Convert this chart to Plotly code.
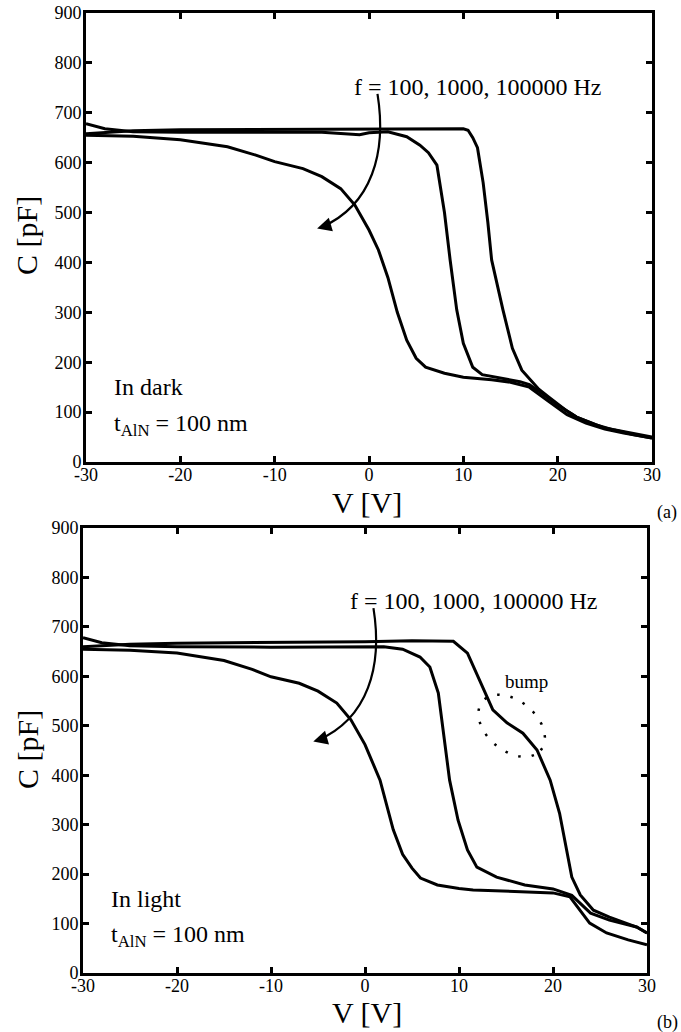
import numpy as np
import plotly.graph_objects as go

# ---------------- data ----------------
# (a) In dark
V_a_100 = [-30, -25, -20, -15, -12, -10, -7, -5, -3, -1.5, 0, 1, 2, 3, 4, 5, 6, 8, 10, 13, 15, 17, 19, 21, 23, 25, 27, 30]
C_a_100 = [655, 653, 646, 632, 615, 602, 588, 572, 548, 515, 465, 425, 370, 300, 244, 208, 190, 178, 170, 165, 160, 150, 122, 95, 78, 66, 58, 48]

V_a_1k = [-30, -28, -25, -20, -10, -5, -1, 0, 2, 4, 5.4, 6.3, 7.2, 8, 8.6, 9.3, 10, 11, 12, 14, 16, 17, 18, 20, 22, 25, 28, 30]
C_a_1k = [678, 668, 662, 661, 661, 661, 656, 660, 662, 652, 635, 620, 595, 500, 405, 305, 238, 190, 175, 168, 161, 155, 142, 114, 90, 68, 57, 50]

V_a_100k = [-30, -25, -20, -10, 0, 5, 10, 10.5, 11, 11.5, 12.1, 12.6, 13, 14.2, 15.2, 16.2, 17.4, 18, 19, 20, 21, 22, 24, 26, 28, 30]
C_a_100k = [658, 664, 666, 667, 668, 669, 668, 665, 650, 630, 560, 480, 405, 305, 228, 184, 158, 146, 131, 116, 102, 90, 75, 64, 55, 48]

# (b) In light
V_b_100 = [-30, -25, -20, -15, -12, -10, -7, -5, -3, -1.5, 0, 1.6, 3, 4, 5, 5.9, 7.7, 10, 11.5, 15, 20, 21.8, 23, 23.9, 25.7, 28, 30]
C_b_100 = [655, 653, 647, 632, 614, 599, 586, 570, 546, 512, 462, 390, 290, 240, 212, 192, 178, 171, 168, 165, 162, 154, 125, 101, 81, 67, 57]

V_b_1k = [-30, -28, -25, -20, -10, 0, 2, 4, 5.85, 6.9, 7.8, 9, 9.9, 10.9, 11.9, 14, 17, 20, 22, 24, 26, 28.9, 30]
C_b_1k = [678, 668, 662, 660, 659, 659, 660, 655, 639, 619, 566, 390, 309, 249, 214, 194, 178, 170, 157, 121, 107, 93, 81]

V_b_100k = [-30, -25, -20, -10, 0, 5, 9.4, 10.9, 12.2, 13.6, 15.1, 16.8, 18.3, 19.7, 20.7, 22, 22.9, 24.3, 26, 28.9, 30]
C_b_100k = [660, 665, 667, 668, 670, 672, 671, 647, 593, 532, 506, 485, 451, 390, 323, 194, 158, 127, 113, 93, 81]

x_ticks = [-30, -20, -10, 0, 10, 20, 30]
x_ticktext = ["-30", "-20", "-10", "0", "10", "20", "30"]
y_ticks = [0, 100, 200, 300, 400, 500, 600, 700, 800, 900]

FONT = "Liberation Serif"
W, H = 681, 1032

fig = go.Figure()
line = dict(color="black", width=3)
for V, C in [(V_a_100, C_a_100), (V_a_1k, C_a_1k), (V_a_100k, C_a_100k)]:
    fig.add_trace(go.Scatter(x=V, y=C, mode="lines", line=line, xaxis="x", yaxis="y", showlegend=False, hoverinfo="skip"))
for V, C in [(V_b_100, C_b_100), (V_b_1k, C_b_1k), (V_b_100k, C_b_100k)]:
    fig.add_trace(go.Scatter(x=V, y=C, mode="lines", line=line, xaxis="x2", yaxis="y2", showlegend=False, hoverinfo="skip"))

def px_dom(a, b, total, flip=False):
    if flip:
        return [1 - b / total, 1 - a / total]
    return [a / total, b / total]

axis_common = dict(
    showgrid=False, zeroline=False, showline=True, linecolor="black", linewidth=3,
    mirror="ticks", ticks="inside", ticklen=6, tickwidth=3, tickcolor="black", automargin=False,
    tickfont=dict(family=FONT, size=18, color="black"),
)
xax = dict(axis_common, range=[-30, 30], tickvals=x_ticks, ticktext=x_ticktext, ticklabelstandoff=-6)
yax = dict(axis_common, range=[0, 900], tickvals=y_ticks, ticklabelstandoff=-2)

fig.update_layout(
    template="none",
    width=W, height=H, margin=dict(l=0, r=0, t=0, b=0, pad=0),
    paper_bgcolor="white", plot_bgcolor="white", showlegend=False,
    xaxis=dict(xax, domain=px_dom(86, 652, W), anchor="y"),
    yaxis=dict(yax, domain=px_dom(13, 462, H, True), anchor="x"),
    xaxis2=dict(xax, domain=px_dom(83, 647, W), anchor="y2"),
    yaxis2=dict(yax, domain=px_dom(528, 973, H, True), anchor="x2"),
)

ann = []
def txt(text, x, y, xref, yref, size, xanchor="left", angle=0):
    ann.append(dict(text=text, x=x, y=y, xref=xref, yref=yref, showarrow=False,
                    xanchor=xanchor, yanchor="middle", textangle=angle,
                    font=dict(family=FONT, size=size, color="black")))

for xr, yr, cond in [("x", "y", "In dark"), ("x2", "y2", "In light")]:
    txt("f = 100, 1000, 100000 Hz", -1.8, 752, xr, yr, 24)
    txt(cond, -27.2, 150, xr, yr, 24)
    txt("t<sub>AlN</sub> = 100 nm", -27.2, 74, xr, yr, 24)
    # curved arrow
    fig.add_shape(type="path", xref=xr, yref=yr,
                  path="M 0.9,738 C 1.9,620 0.3,515 -5.0,471",
                  line=dict(color="black", width=2.2))
    ann.append(dict(x=-5.5, y=468, ax=-4.6, ay=473, xref=xr, yref=yr, axref=xr, ayref=yr,
                    text="", showarrow=True, arrowhead=2, arrowsize=1.3, arrowwidth=2.2, arrowcolor="black"))

# bump ellipse (b) - decoration only
cx, cy = 15.6, 500
t = np.linspace(0, 2 * np.pi, 60)
a_px, b_px, th = 38, 25, np.deg2rad(-40)
ex = a_px * np.cos(t) * np.cos(th) - b_px * np.sin(t) * np.sin(th)
ey = a_px * np.cos(t) * np.sin(th) + b_px * np.sin(t) * np.cos(th)
pts = [(cx + dx / 9.4, cy + dy / 0.4944) for dx, dy in zip(ex, ey)]
path = "M " + " L ".join(f"{p[0]:.3f},{p[1]:.2f}" for p in pts) + " Z"
fig.add_shape(type="path", xref="x2", yref="y2", path=path,
              line=dict(color="black", width=2.5, dash="2.5px,11px"))
txt("bump", 17.2, 590, "x2", "y2", 19, xanchor="center")

# axis titles and panel labels (paper coords)
def ptxt(text, px, py, size, angle=0):
    ann.append(dict(text=text, x=px / W, y=1 - py / H, xref="paper", yref="paper", showarrow=False,
                    xanchor="center", yanchor="middle", textangle=angle,
                    font=dict(family=FONT, size=size, color="black")))

ptxt("C [pF]", 27, 236, 30, -90)
ptxt("C [pF]", 27, 750, 30, -90)
ptxt("V [V]", 367, 502, 30)
ptxt("V [V]", 367, 1012, 30)
ptxt("(a)", 667, 512, 18)
ptxt("(b)", 667, 1022, 18)

fig.update_layout(annotations=ann)
fig.write_html("out.html")
